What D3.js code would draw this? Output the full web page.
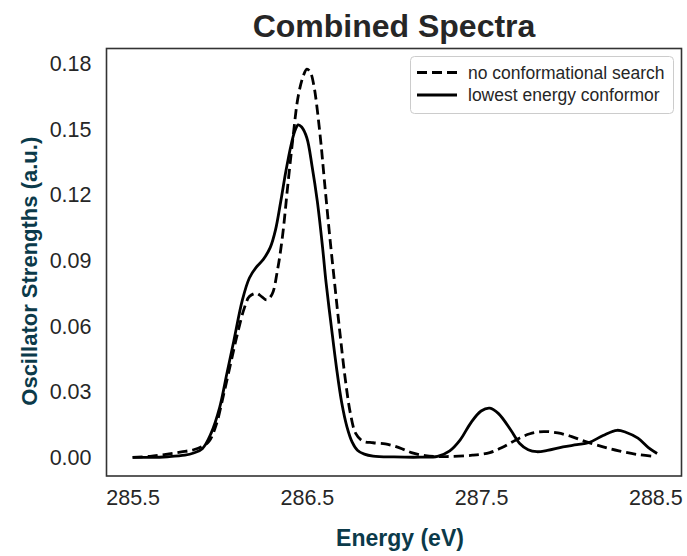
<!DOCTYPE html>
<html>
<head>
<meta charset="utf-8">
<script src="https://cdn.jsdelivr.net/npm/d3@7/dist/d3.min.js"></script>
<style>
  html, body { margin: 0; padding: 0; background: #fff; }
  svg { display: block; font-family: "Liberation Sans", Arial, sans-serif; }
</style>
</head>
<body>
<svg id="chart" width="687" height="556"></svg>
<script>
// Energy grid (eV) and oscillator strengths for each spectrum
const noSearchEnergy = [285.50, 285.60, 285.70, 285.78, 285.85, 285.90, 285.94, 285.98, 286.02, 286.06,
  286.10, 286.14, 286.17, 286.21, 286.24, 286.27, 286.30, 286.33, 286.36, 286.39, 286.42, 286.45, 286.48,
  286.50, 286.52, 286.54, 286.575, 286.60, 286.63, 286.66, 286.69, 286.72, 286.75, 286.78, 286.82, 286.88,
  286.95, 287.00, 287.05, 287.10, 287.18, 287.30, 287.45, 287.55, 287.62, 287.70, 287.78, 287.86, 287.94,
  288.02, 288.10, 288.20, 288.29, 288.40, 288.50];
const noSearchStrength = [0.0000, 0.0005, 0.0015, 0.0025, 0.0035, 0.0050, 0.0075, 0.0150, 0.0280, 0.0420,
  0.0560, 0.0680, 0.0735, 0.0750, 0.0735, 0.0720, 0.0745, 0.0850, 0.1010, 0.1240, 0.1460, 0.1650, 0.1745,
  0.1775, 0.1760, 0.1700, 0.1480, 0.1270, 0.1020, 0.0790, 0.0567, 0.0360, 0.0200, 0.0110, 0.0075, 0.0067,
  0.0062, 0.0052, 0.0038, 0.0022, 0.0008, 0.0004, 0.0010, 0.0022, 0.0045, 0.0080, 0.0108, 0.0118, 0.0112,
  0.0095, 0.0072, 0.0048, 0.0030, 0.0013, 0.0004];

const lowestEnergy = [285.50, 285.60, 285.70, 285.80, 285.85, 285.90, 285.95, 286.00, 286.04, 286.08,
  286.13, 286.17, 286.21, 286.25, 286.29, 286.32, 286.35, 286.38, 286.41, 286.43, 286.45, 286.47, 286.50,
  286.53, 286.56, 286.59, 286.61, 286.64, 286.67, 286.70, 286.73, 286.76, 286.79, 286.83, 286.88, 287.00,
  287.15, 287.25, 287.32, 287.38, 287.44, 287.50, 287.55, 287.60, 287.67, 287.72, 287.77, 287.82, 287.88,
  287.97, 288.05, 288.12, 288.20, 288.28, 288.33, 288.40, 288.46, 288.51];
const lowestStrength = [0.0000, 0.0000, 0.0003, 0.0010, 0.0020, 0.0040, 0.0110, 0.0230, 0.0380, 0.0530,
  0.0720, 0.0820, 0.0870, 0.0905, 0.0960, 0.1040, 0.1170, 0.1310, 0.1430, 0.1490, 0.1520, 0.1510, 0.1460,
  0.1330, 0.1170, 0.0960, 0.0800, 0.0600, 0.0410, 0.0250, 0.0140, 0.0070, 0.0033, 0.0015, 0.0006, 0.0002,
  0.0001, 0.0005, 0.0030, 0.0080, 0.0157, 0.0212, 0.0225, 0.0200, 0.0125, 0.0065, 0.0035, 0.0026, 0.0032,
  0.0048, 0.0058, 0.0068, 0.0100, 0.0124, 0.0115, 0.0088, 0.0045, 0.0018];

const xTicks = [285.5, 286.5, 287.5, 288.5];
const yTicks = [0.00, 0.03, 0.06, 0.09, 0.12, 0.15, 0.18];
const seriesNames = ["no conformational search", "lowest energy conformor"];

const svg = d3.select("#chart");
const plot = { left: 106.5, right: 681.5, top: 48.5, bottom: 476 };

const x = d3.scaleLinear().domain([285.35, 288.65]).range([plot.left, plot.right]);
const y = d3.scaleLinear().domain([-0.0085, 0.1869]).range([plot.bottom, plot.top]);

const ink = "#262626";
const labelInk = "#0b3a4a";

// title
svg.append("text")
  .attr("x", (plot.left + plot.right) / 2).attr("y", 37)
  .attr("text-anchor", "middle")
  .attr("font-size", 32).attr("font-weight", "bold").attr("fill", ink)
  .text("Combined Spectra");

// axes (labels only, no tick marks)
const xAxis = svg.append("g")
  .attr("transform", `translate(0,${plot.bottom})`)
  .call(d3.axisBottom(x).tickValues(xTicks).tickSize(0).tickPadding(14).tickFormat(d3.format(".1f")));
xAxis.select(".domain").remove();
xAxis.selectAll("text").attr("font-size", 21.5).attr("fill", ink).attr("font-family", "Liberation Sans, Arial, sans-serif");

const yAxis = svg.append("g")
  .attr("transform", `translate(${plot.left},0)`)
  .call(d3.axisLeft(y).tickValues(yTicks).tickSize(0).tickPadding(15).tickFormat(d3.format(".2f")));
yAxis.select(".domain").remove();
yAxis.selectAll("text").attr("font-size", 21.5).attr("fill", ink).attr("font-family", "Liberation Sans, Arial, sans-serif");

// axis titles
svg.append("text")
  .attr("x", (plot.left + plot.right) / 2 + 6).attr("y", 546)
  .attr("text-anchor", "middle")
  .attr("font-size", 23).attr("font-weight", "bold").attr("fill", labelInk)
  .text("Energy (eV)");

svg.append("text")
  .attr("transform", `translate(37,${(plot.top + plot.bottom) / 2 + 9}) rotate(-90)`)
  .attr("text-anchor", "middle")
  .attr("font-size", 22).attr("font-weight", "bold").attr("fill", labelInk)
  .text("Oscillator Strengths (a.u.)");

// spectra
const line = d3.line()
  .x(d => x(d[0])).y(d => y(d[1]))
  .curve(d3.curveCatmullRom.alpha(0.5));

const noSearch = noSearchEnergy.map((e, i) => [e, noSearchStrength[i]]);
const lowest = lowestEnergy.map((e, i) => [e, lowestStrength[i]]);

svg.append("path").datum(noSearch)
  .attr("d", line).attr("fill", "none")
  .attr("stroke", "#000").attr("stroke-width", 2.8)
  .attr("stroke-dasharray", "10,5");

svg.append("path").datum(lowest)
  .attr("d", line).attr("fill", "none")
  .attr("stroke", "#000").attr("stroke-width", 2.8);

// frame
svg.append("rect")
  .attr("x", plot.left).attr("y", plot.top)
  .attr("width", plot.right - plot.left).attr("height", plot.bottom - plot.top)
  .attr("fill", "none").attr("stroke", "#333").attr("stroke-width", 1.6);

// legend
const legend = svg.append("g");
legend.append("rect")
  .attr("x", 410.5).attr("y", 56.5).attr("width", 263).attr("height", 57)
  .attr("rx", 4).attr("fill", "#fff").attr("stroke", "#cccccc").attr("stroke-width", 1);

const legendRows = [
  { name: seriesNames[0], dash: "10,5", cy: 72.5 },
  { name: seriesNames[1], dash: null, cy: 95 }
];
legendRows.forEach(r => {
  const ln = legend.append("line")
    .attr("x1", 417).attr("x2", 457).attr("y1", r.cy).attr("y2", r.cy)
    .attr("stroke", "#000").attr("stroke-width", 2.8);
  if (r.dash) ln.attr("stroke-dasharray", r.dash);
  legend.append("text")
    .attr("x", 468).attr("y", r.cy).attr("dy", "0.35em")
    .attr("font-size", 17.5).attr("fill", ink)
    .text(r.name);
});
</script>
</body>
</html>
